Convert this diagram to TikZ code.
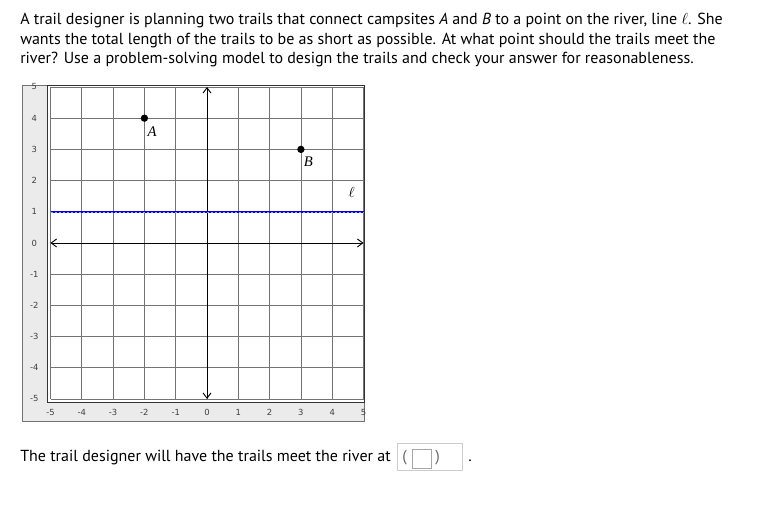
\documentclass[tikz,border=0pt]{standalone}
\usepackage{fontspec}
\setmainfont{PT Sans}
\newfontfamily\tickfont{DejaVu Sans}
\newfontfamily\ptlabelfont{Liberation Serif}
\usetikzlibrary{positioning, arrows.meta}

\tikzset{
  txt/.style = {anchor=base west, inner sep=0pt, font=\fontsize{12}{14}\selectfont},
  tick/.style = {inner sep=0pt, text=black!75, font=\tickfont\fontsize{6.3}{7}\selectfont},
  axis/.style = {{Straight Barb[length=4pt, width=6pt]}-{Straight Barb[length=4pt, width=6pt]}, line width=0.7pt},
  campsite/.style = {circle, fill=black, inner sep=0pt, minimum size=5.5pt},
  ptlabel/.style = {inner sep=0pt, font=\ptlabelfont\fontsize{11}{13}\selectfont\itshape},
  entry/.style = {draw=black!20, fill=white, inner sep=0pt}
}

\begin{document}
\begin{tikzpicture}[x=0.75pt, y=0.75pt]
  \useasboundingbox (0,0) rectangle (763,506);
  % question
  \node[txt] (line1) at (20,481) {A trail designer is planning two trails that connect campsites \textit{A} and \textit{B} to a point on the river, line $\ell$. She};
  \node[txt] (line2) at (20,461.5) {wants the total length of the trails to be as short as possible. At what point should the trails meet the};
  \node[txt] (line3) at (20,442) {river? Use a problem-solving model to design the trails and check your answer for reasonableness.};
  % frame of the graph
  \draw[black!55, fill=black!8] (22,85) rectangle (364,421);
  \draw[black!80, fill=white] (47.5,103.5) rectangle (364,421);
  \begin{scope}[shift={(207,263)}, x=23.475pt, y=23.4pt]
    \foreach \k in {-5,...,5}{
      \draw[black!55, line width=0.6pt] (\k,-5) -- (\k,5);
      \draw[black!55, line width=0.6pt] (-5,\k) -- (5,\k);
    }
    % axes
    \coordinate (xl) at (-5,0);
    \coordinate (xr) at (5,0);
    \coordinate (yb) at (0,-5);
    \coordinate (yt) at (0,5);
    \draw[axis] (xl) -- (xr);
    \draw[axis] (yb) -- (yt);
    % river
    \coordinate (rl) at (-5,1);
    \coordinate (rr) at (5,1);
    \draw[blue!85!black, line width=1.2pt] (rl) -- (rr);
    \draw[blue!40, line width=0.4pt, dash pattern=on 2pt off 1pt] (rl) -- (rr);
    \node[ptlabel] (ell) at (4.62,1.62) {$\ell$};
    % campsites
    \node[campsite] (A) at (-2,4) {};
    \node[ptlabel] (Alab) at (-1.75,3.56) {A};
    \node[campsite] (B) at (3,3) {};
    \node[ptlabel] (Blab) at (3.24,2.6) {B};
    % tick labels
    \foreach \k in {-5,...,5}{
      \node[tick] (ylab\k) at (-5.52,\k) {\k};
      \node[tick] (xlab\k) at (\k,-5.42) {\k};
    }
  \end{scope}
  % answer
  \node[txt] (ans) at (20,44) {The trail designer will have the trails meet the river at};
  \node[entry, minimum width=48.75pt, minimum height=20.25pt] (ansbox) at (429.5,49.5) {};
  \node[entry, draw=black!35, minimum width=14.25pt, minimum height=14.25pt] (xbox) at (421.5,47.5) {};
  \node[txt, text=black!60] (lpar) at (402,44) {(};
  \node[txt, text=black!60] (rpar) at (435,44) {)};
  \node[txt] (stop) at (468,44) {.};
\end{tikzpicture}
\end{document}
